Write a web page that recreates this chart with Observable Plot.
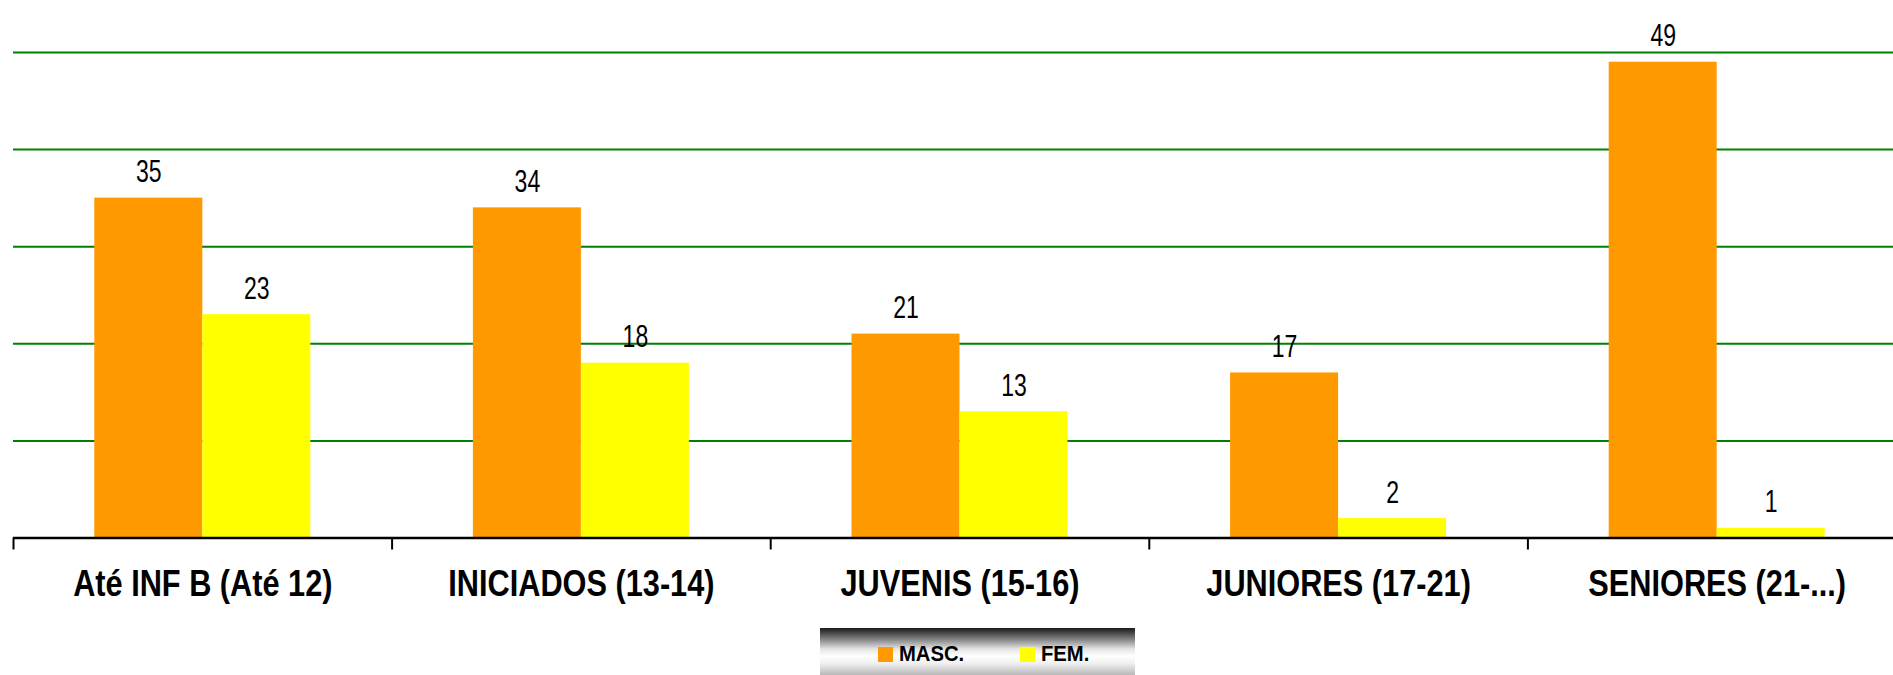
<!DOCTYPE html>
<html>
<head>
<meta charset="utf-8">
<script src="https://cdn.jsdelivr.net/npm/d3@7"></script>
<script src="https://cdn.jsdelivr.net/npm/@observablehq/plot@0.6"></script>
<style>
  html, body { margin: 0; padding: 0; background: #fff; overflow: hidden; }
  #wrap { width: 1893px; height: 675px; overflow: hidden; position: relative; }
  #chart { width: 1906px; }
  #chart svg { display: block; max-width: none !important; width: 1906px !important; height: 627px !important; }
  #legend {
    position: absolute; left: 820px; top: 628px; width: 315px; height: 47px;
    background: linear-gradient(to bottom, #1a1a1a 0%, #7a7a7a 22%, #e6e6e6 45%, #ffffff 60%, #f0f0f0 75%, #b8b8b8 100%);
    font-family: "Liberation Sans", Arial, sans-serif;
    font-weight: bold; font-size: 22px; color: #000;
  }
  .item { position: absolute; top: 16px; display: flex; align-items: center; line-height: 20px; }
  .sw { width: 15px; height: 15px; margin-right: 6px; }
  .lbl { display: inline-block; transform: scaleX(0.92); transform-origin: left center; }
</style>
</head>
<body>
<div id="wrap">
  <div id="chart"></div>
  <div id="legend">
    <div class="item" style="left:58px"><div class="sw" style="background:#FF9900"></div><span class="lbl">MASC.</span></div>
    <div class="item" style="left:200px"><div class="sw" style="background:#FFFF00"></div><span class="lbl">FEM.</span></div>
  </div>
</div>
<script>
const categories = ["Até INF B (Até 12)", "INICIADOS (13-14)", "JUVENIS (15-16)", "JUNIORES (17-21)", "SENIORES (21-...)"];
const masc = [35, 34, 21, 17, 49];
const fem = [23, 18, 13, 2, 1];
const gridTicks = [10, 20, 30, 40, 50];

const rows = categories.map((c, i) => ({cat: c, masc: masc[i], fem: fem[i]}));

const W = 1906, ML = 13;
const step = (W - ML) / categories.length;
const barW = 108;
const outer = step / 2 - barW;

const font = '"Liberation Sans", Arial, sans-serif';

const chart = Plot.plot({
  width: W,
  height: 627,
  marginLeft: ML,
  marginRight: 0,
  marginTop: 52,
  marginBottom: 89.5,
  style: {fontFamily: font, background: "#fff", maxWidth: "none"},
  x: {domain: categories, padding: 0, round: false},
  y: {domain: [0, 50]},
  marks: [
    Plot.ruleY(gridTicks, {stroke: "#008000", strokeWidth: 2}),
    Plot.barY(rows, {x: "cat", y: "masc", fill: "#FF9900", insetLeft: outer, insetRight: step / 2}),
    Plot.barY(rows, {x: "cat", y: "fem", fill: "#FFFF00", insetLeft: step / 2, insetRight: outer}),
    Plot.text(rows, {x: "cat", y: "masc", text: "masc", dx: -barW / 2, dy: -16, lineAnchor: "bottom", fontSize: 32, fill: "#000"}),
    Plot.text(rows, {x: "cat", y: "fem", text: "fem", dx: barW / 2, dy: -16, lineAnchor: "bottom", fontSize: 32, fill: "#000"}),
    Plot.ruleY([0], {stroke: "#000", strokeWidth: 2.5}),
    Plot.axisX({tickSize: 12, dx: -step / 2, text: null, label: null, stroke: "#000", strokeWidth: 2, strokeOpacity: 1}),
    Plot.axisX({tickSize: 0, tickPadding: 32, fontSize: 37, fontWeight: "bold", fill: "#000", label: null}),
    Plot.axisY({ticks: [], label: null})
  ]
});
document.getElementById("chart").appendChild(chart);

// condense the glyphs horizontally to mimic the narrow typeface of the original
chart.querySelectorAll("text").forEach(t => {
  const g = t.closest("[font-size]");
  const fs = g ? +g.getAttribute("font-size") : 0;
  let sx = 1;
  if (fs === 37) sx = 0.83;
  else if (fs === 32) sx = 0.72;
  if (sx === 1) return;
  const tr = t.getAttribute("transform");
  if (tr) {
    t.setAttribute("transform", tr + ` scale(${sx},1)`);
  } else {
    const x = +(t.getAttribute("x") || 0);
    t.setAttribute("transform", `translate(${x},0) scale(${sx},1) translate(${-x},0)`);
  }
});
</script>
</body>
</html>
